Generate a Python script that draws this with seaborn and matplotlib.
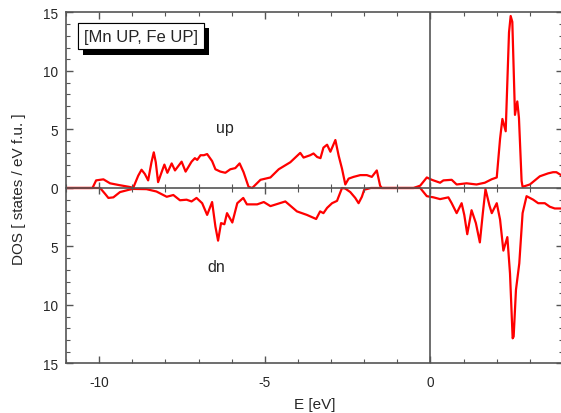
import matplotlib
matplotlib.use("Agg")
import matplotlib.pyplot as plt
import matplotlib.patheffects as pe
from matplotlib.ticker import MultipleLocator, FuncFormatter
import pandas as pd
import seaborn as sns

# spin-up DOS
energy_up = [-11.0, -10.2, -10.09, -9.87, -9.67, -9.4, -9.1, -8.97, -8.82, -8.72,
             -8.62, -8.52, -8.42, -8.35, -8.29, -8.22, -8.12, -8.03, -7.94, -7.81,
             -7.71, -7.51, -7.39, -7.21, -7.11, -7.04, -6.94, -6.84, -6.74, -6.59,
             -6.49, -6.34, -6.19, -6.04, -5.89, -5.76, -5.64, -5.49, -5.38, -5.13,
             -4.83, -4.58, -4.23, -3.93, -3.83, -3.63, -3.53, -3.42, -3.32, -3.23,
             -3.12, -3.02, -2.87, -2.77, -2.67, -2.57, -2.47, -2.32, -2.12, -1.92,
             -1.77, -1.62, -1.52, -1.47, -0.51, -0.31, -0.11, 0.04, 0.29, 0.39,
             0.64, 0.79, 1.09, 1.39, 1.64, 1.85, 2.0, 2.10, 2.17, 2.27,
             2.37, 2.42, 2.47, 2.55, 2.62, 2.67, 2.75, 2.78, 3.0, 3.3,
             3.55, 3.7, 3.8, 4.0]
dos_up = [0, 0, 0.65, 0.74, 0.4, 0.25, 0.1, 0.02, 1.05, 1.56,
          1.2, 0.65, 2.2, 3.05, 2.2, 0.5, 1.3, 2.0, 1.3, 2.1,
          1.5, 2.25, 1.4, 2.25, 2.55, 2.4, 2.8, 2.8, 2.9, 2.3,
          1.6, 1.4, 1.3, 1.6, 1.7, 2.1, 1.35, 0.1, 0.0, 0.7,
          0.9, 1.6, 2.2, 3.0, 2.6, 2.8, 2.95, 2.65, 2.55, 3.45,
          3.7, 3.1, 4.1, 2.75, 1.65, 0.3, 0.8, 0.95, 1.1, 1.1,
          0.95, 1.5, 0.2, 0.0, 0.0, 0.2, 0.9, 0.7, 0.45, 0.65,
          0.7, 0.3, 0.4, 0.3, 0.45, 0.75, 0.9, 4.2, 5.9, 4.85,
          13.3, 14.7, 14.2, 6.25, 7.4, 6.0, 0.6, 0.1, 0.3, 1.0,
          1.25, 1.35, 1.35, 1.0]

# spin-down DOS (magnitudes, drawn below zero)
energy_dn = [-11.0, -9.97, -9.82, -9.72, -9.57, -9.37, -9.1, -8.97, -8.57, -8.27,
             -7.96, -7.76, -7.56, -7.36, -7.21, -7.06, -6.89, -6.74, -6.59, -6.49,
             -6.41, -6.32, -6.22, -6.14, -5.98, -5.83, -5.65, -5.54, -5.23, -5.03,
             -4.83, -4.38, -4.03, -3.73, -3.45, -3.33, -3.23, -3.12, -2.97, -2.82,
             -2.67, -2.57, -2.42, -2.27, -2.17, -2.07, -2.0, -1.8, -0.31, -0.21,
             -0.11, 0.09, 0.29, 0.54, 0.64, 0.79, 0.94, 1.02, 1.11, 1.24,
             1.37, 1.49, 1.58, 1.66, 1.78, 1.85, 2.0, 2.10, 2.2, 2.32,
             2.40, 2.48, 2.51, 2.58, 2.68, 2.78, 2.90, 3.1, 3.25, 3.45,
             3.60, 3.75, 4.0]
dos_dn = [0, 0, 0.5, 0.85, 0.8, 0.35, 0.15, 0.08, 0.1, 0.3,
          0.75, 0.6, 1.05, 1.0, 1.15, 0.85, 1.3, 2.3, 1.2, 3.3,
          4.5, 3.0, 3.1, 2.15, 2.95, 1.3, 0.85, 1.4, 1.4, 1.2,
          1.55, 1.15, 2.0, 2.3, 2.65, 2.0, 2.15, 1.7, 1.3, 1.1,
          0.0, 0.05, 0.35, 0.85, 1.3, 0.75, 0.15, 0.0, 0.0, 0.35,
          0.7, 0.8, 0.95, 0.8, 1.3, 2.15, 1.3, 2.3, 3.95, 1.9,
          3.0, 4.65, 2.15, 0.1, 1.5, 2.15, 1.3, 2.7, 5.35, 4.2,
          7.3, 12.85, 12.7, 8.7, 6.45, 2.15, 0.7, 1.0, 1.3, 1.3,
          1.6, 1.75, 1.75]

sns.set_style("ticks")
plt.rcParams["font.family"] = ["Liberation Sans", "DejaVu Sans"]
plt.rcParams["axes.unicode_minus"] = False
plt.rcParams["xtick.direction"] = "in"
plt.rcParams["ytick.direction"] = "in"
axis_color = "#555555"

df_up = pd.DataFrame({"E": energy_up, "DOS": dos_up})
df_dn = pd.DataFrame({"E": energy_dn, "DOS": [-v for v in dos_dn]})

fig = plt.figure(figsize=(5.61, 4.14), dpi=100)
ax = fig.add_axes([0.1176, 0.1196, 0.886, 0.8478])

sns.lineplot(data=df_up, x="E", y="DOS", ax=ax, color="red", linewidth=1.6, sort=False)
sns.lineplot(data=df_dn, x="E", y="DOS", ax=ax, color="red", linewidth=1.6, sort=False)

ax.set_xlim(-11, 4)
ax.set_ylim(-15, 15)
ax.axvline(0, color=axis_color, linewidth=1.2, zorder=3)

# zero axis with its own ticks
ax2 = ax.twiny()
ax2.set_xlim(ax.get_xlim())
for s in ["top", "left", "right"]:
    ax2.spines[s].set_visible(False)
ax2.spines["bottom"].set_position(("data", 0))
ax2.spines["bottom"].set_color(axis_color)
ax2.spines["bottom"].set_linewidth(1.2)
ax2.xaxis.set_ticks_position("bottom")
ax2.xaxis.set_major_locator(MultipleLocator(5))
ax2.xaxis.set_minor_locator(MultipleLocator(1))
ax2.tick_params(which="both", direction="inout", labelbottom=False, labeltop=False,
                color=axis_color)
ax2.tick_params(which="major", length=8, width=1)
ax2.tick_params(which="minor", length=6, width=0.8)

# main ticks (after twiny, which resets the top ticks)
ax.xaxis.set_major_locator(MultipleLocator(5))
ax.xaxis.set_minor_locator(MultipleLocator(1))
ax.yaxis.set_major_locator(MultipleLocator(5))
ax.yaxis.set_minor_locator(MultipleLocator(1))
ax.yaxis.set_major_formatter(FuncFormatter(lambda v, p: f"{abs(v):g}"))
ax.tick_params(which="both", direction="in", bottom=True, left=True, top=True, right=True,
               labeltop=False, labelright=False, color=axis_color, labelsize=9.8)
ax.tick_params(axis="x", pad=8.5)
ax.tick_params(axis="y", pad=6)
ax.tick_params(which="major", length=5, width=1)
ax.tick_params(which="minor", length=3, width=0.8)
for s in ax.spines.values():
    s.set_color(axis_color)
    s.set_linewidth(1.2)

ax.set_xlabel("E [eV]", fontsize=11, labelpad=5.5)
ax.set_ylabel("DOS [ states / eV f.u. ]", fontsize=11, labelpad=12)

ax.text(-6.19, 5.2, "up", fontsize=11.5, ha="center", va="center")
ax.text(-6.46, -6.7, "dn", fontsize=11.5, ha="center", va="center")

t = ax.text(0.151, 0.933, "[Mn UP, Fe UP]", transform=ax.transAxes,
            ha="center", va="center", fontsize=12, zorder=5,
            bbox=dict(boxstyle="square,pad=0.35", fc="white", ec="black", lw=0.8))
t.get_bbox_patch().set_path_effects(
    [pe.withSimplePatchShadow(offset=(3.6, -4), shadow_rgbFace="black", alpha=1), pe.Normal()])

fig.savefig("out.png", dpi=100)
